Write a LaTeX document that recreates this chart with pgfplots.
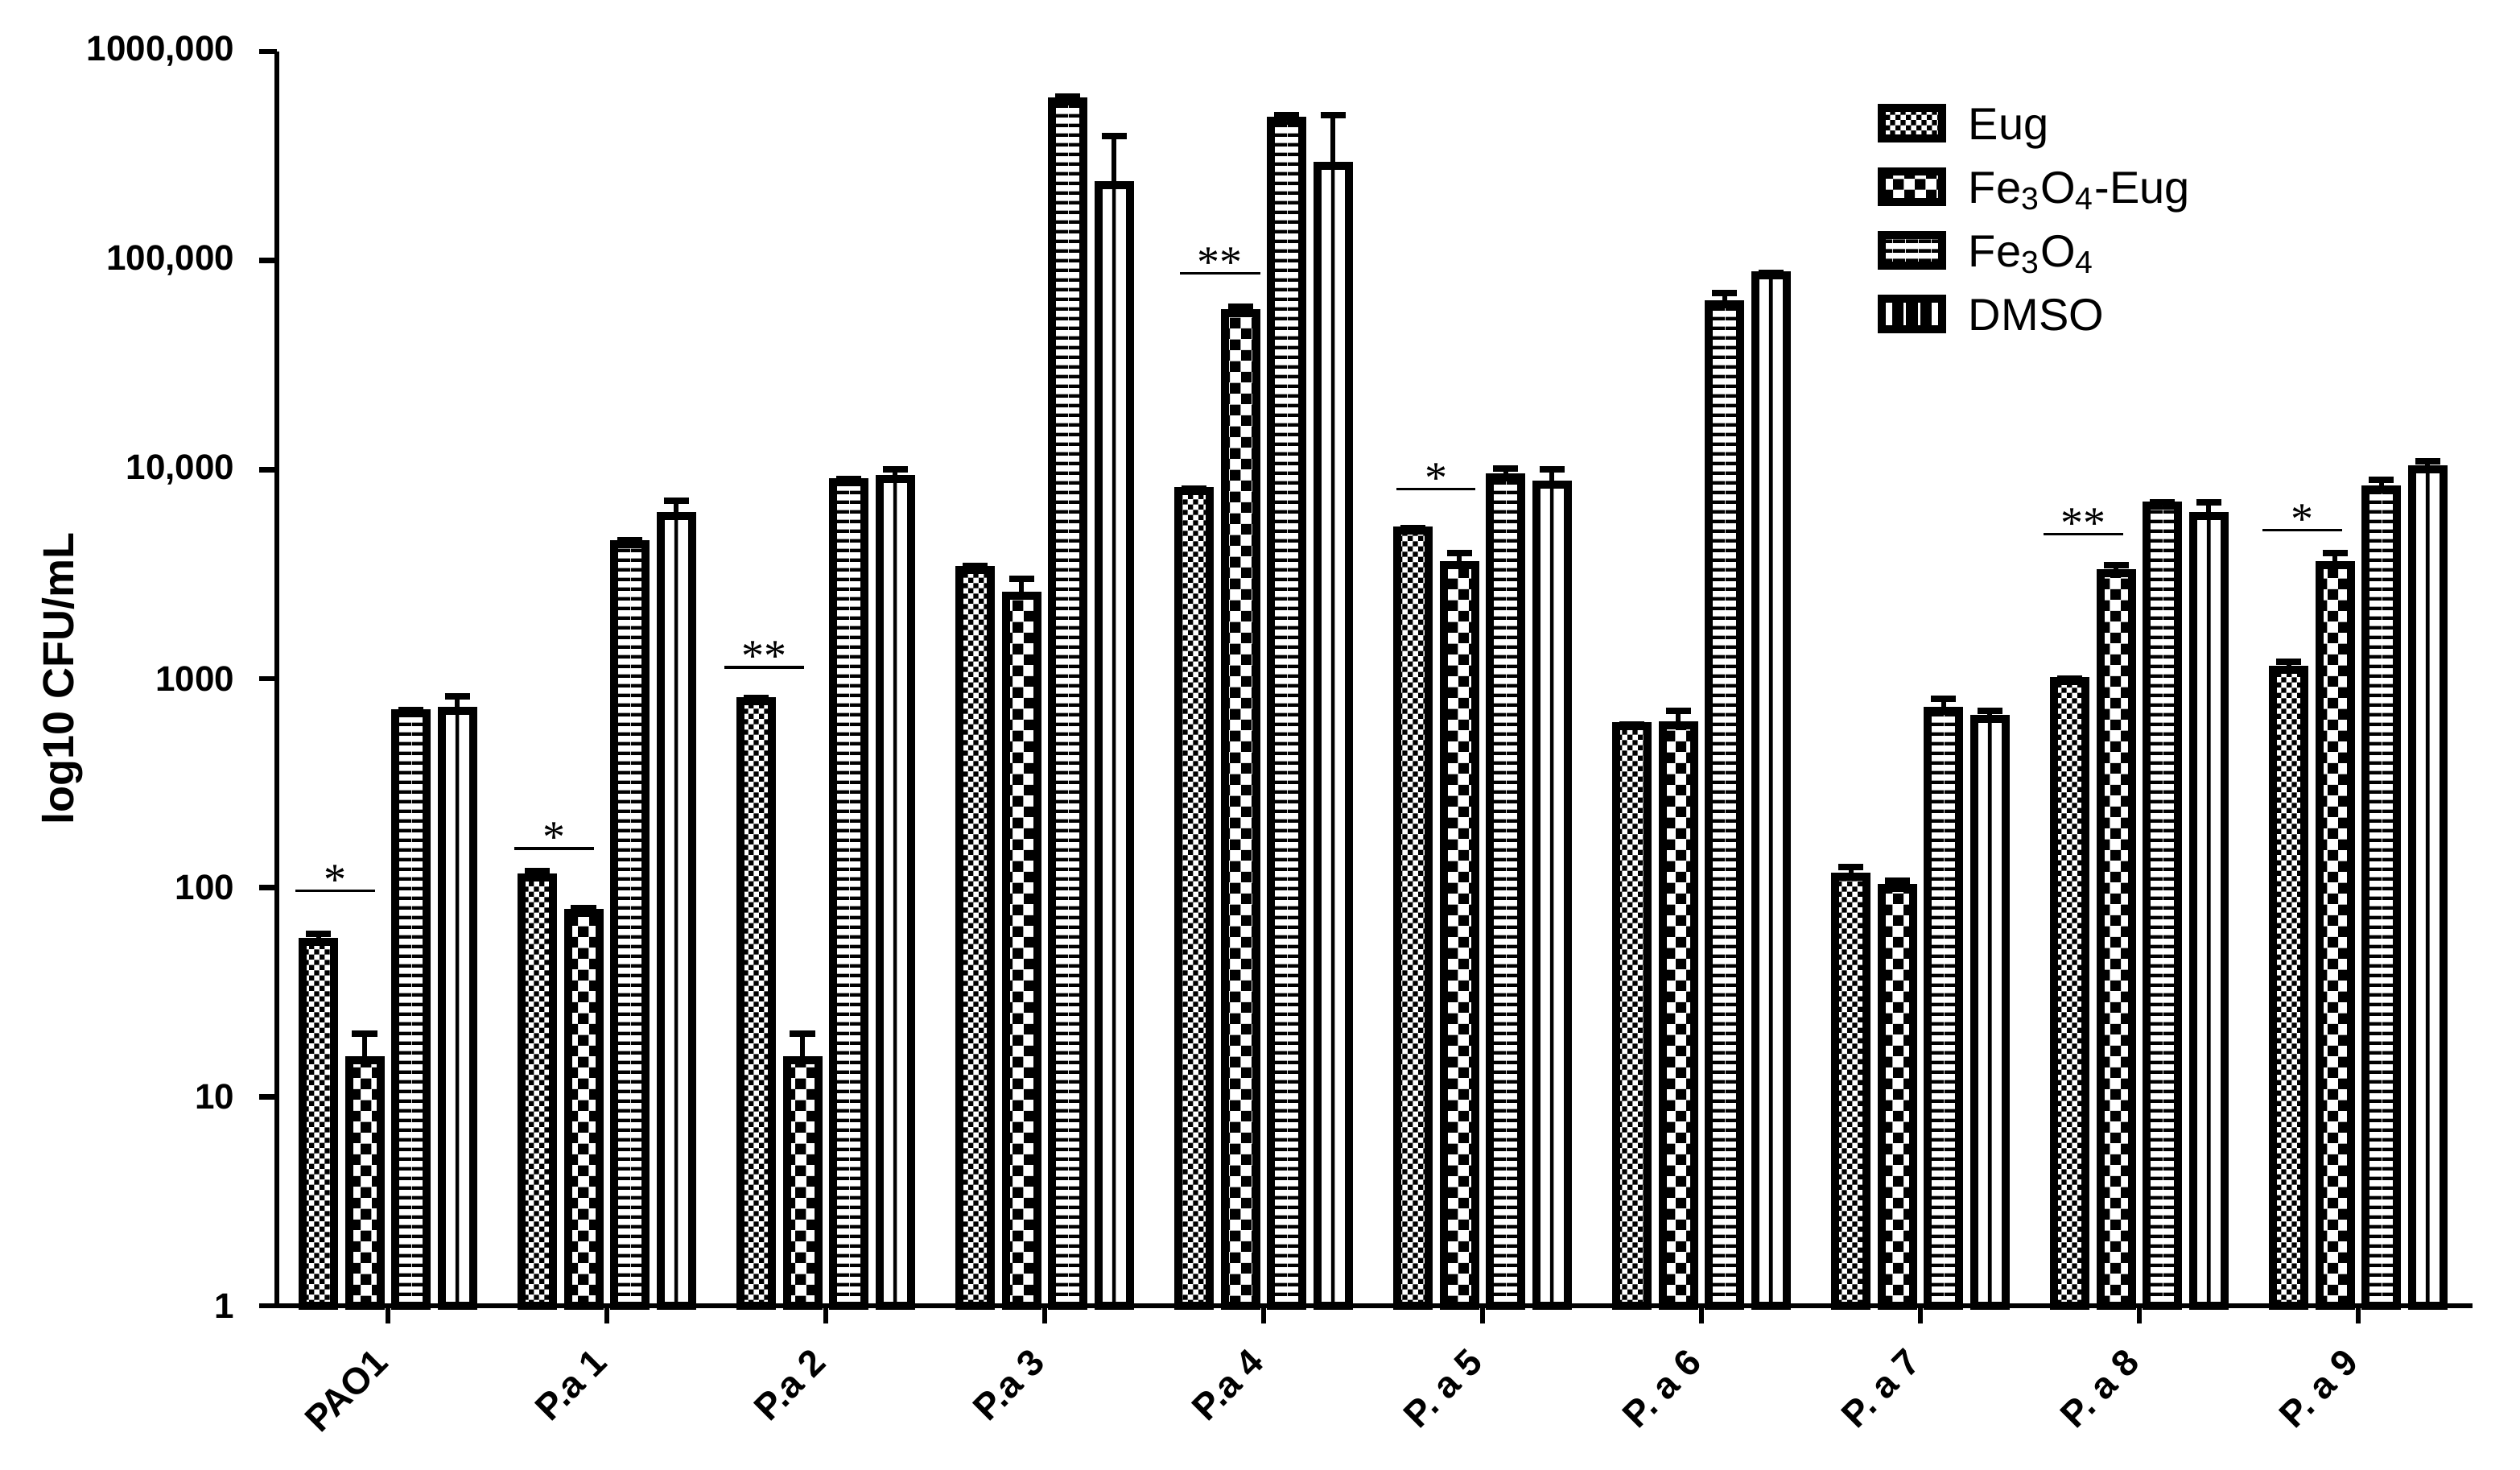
\documentclass[border=0pt]{standalone}
\usepackage{fontspec}
\setmainfont{Liberation Sans}
\newfontfamily\starfont{Liberation Serif}
\usepackage{pgfplots}
\usepackage{pgfplotstable}
\pgfplotsset{compat=1.18}
\usetikzlibrary{patterns}

% fill patterns of the four treatments
\pgfdeclarepatternformonly{finecheck}{\pgfpointorigin}{\pgfpoint{3.2pt}{3.2pt}}{\pgfpoint{3.2pt}{3.2pt}}{%
  \pgfpathrectangle{\pgfpointorigin}{\pgfpoint{1.6pt}{1.6pt}}%
  \pgfpathrectangle{\pgfpoint{1.6pt}{1.6pt}}{\pgfpoint{1.6pt}{1.6pt}}%
  \pgfusepath{fill}}
\pgfdeclarepatternformonly{coarsecheck}{\pgfpointorigin}{\pgfpoint{6.8pt}{6.8pt}}{\pgfpoint{6.8pt}{6.8pt}}{%
  \pgfpathrectangle{\pgfpointorigin}{\pgfpoint{3.4pt}{3.4pt}}%
  \pgfpathrectangle{\pgfpoint{3.4pt}{3.4pt}}{\pgfpoint{3.4pt}{3.4pt}}%
  \pgfusepath{fill}}
\pgfdeclarepatternformonly{hlines}{\pgfpointorigin}{\pgfpoint{4pt}{3pt}}{\pgfpoint{4pt}{3pt}}{%
  \pgfpathrectangle{\pgfpointorigin}{\pgfpoint{4pt}{1.2pt}}%
  \pgfusepath{fill}}

% columns: strain index, mean, SD
\pgfplotstableread{
x y err
0 55 5
1 112 8
2 780 30
3 3300 150
4 7900 200
5 5100 150
6 590 15
7 113 12
8 970 30
9 1100 100
}\eug
\pgfplotstableread{
x y err
0 15 5
1 76 4
2 15 5
3 2500 500
4 56000 4000
5 3500 500
6 600 100
7 100 8
8 3200 300
9 3500 500
}\feeug
\pgfplotstableread{
x y err
0 680 30
1 4400 200
2 8700 300
3 575000 35000
4 465000 30000
5 9200 900
6 62000 8000
7 700 100
8 6700 300
9 8000 900
}\fe
\pgfplotstableread{
x y err
0 700 120
1 6000 1100
2 9000 1000
3 230000 165000
4 285000 210000
5 8500 1500
6 85000 2000
7 640 60
8 6000 1000
9 10000 1000
}\dmso

\pgfplotsset{
  sdbar/.style={ybar, bar width=0.143, bar shift=0, draw=black, line width=2.5pt,
    error bars/y dir=plus, error bars/y explicit,
    error bars/error mark=|,
    error bars/error mark options={line width=2pt, mark size=3.9pt},
    error bars/error bar style={line width=1.5pt}},
  legbox/.style={legend image code/.code={%
    \draw[##1, line width=2.5pt] (0pt,-3.25pt) rectangle (18.75pt,6.25pt);}},
}

\begin{document}
\begin{tikzpicture}
\path[use as bounding box] (-86pt,-51pt) rectangle (696.75pt,405.5pt);
\begin{axis}[
  at={(0,0)}, anchor=south west,
  scale only axis, width=682pt, height=389.5pt,
  ymode=log, ymin=1, ymax=1000000,
  xmin=-0.507, xmax=9.522,
  axis x line*=bottom, axis y line*=left,
  axis line style={line width=1.6pt},
  tick style={line width=1.6pt, black},
  tick align=outside, major tick length=5.5pt,
  yminorticks=false,
  xtick={0,...,9},
  xticklabels={PAO1, P.a 1, P.a 2, P.a 3, P.a 4, P. a 5, P. a 6, P. a 7, P. a 8, P. a 9},
  ytick={1,10,100,1000,10000,100000,1000000},
  yticklabels={1,10,100,1000,{10,000},{100,000},{1000,000}},
  xticklabel style={font=\bfseries\fontsize{11.5}{13}\selectfont, yshift=-7pt, xshift=-5pt, rotate=45, anchor=north east, inner sep=0pt},
  yticklabel style={font=\bfseries\fontsize{11}{13}\selectfont, anchor=east, inner sep=0pt, xshift=-7.5pt},
  ylabel={log10 CFU/mL},
  ylabel style={font=\bfseries\fontsize{13.5}{15}\selectfont, at={(axis description cs:-0.0924,0.5)}, anchor=base},
  legend style={draw=none, fill=none, at={(axis description cs:0.7291,0.9582)}, anchor=north west,
    inner sep=0pt, outer sep=0pt, row sep=5.75pt,
    font=\fontsize{14}{16}\selectfont,
    nodes={inner sep=0pt, text height=10pt, text depth=3pt},
    /tikz/every odd column/.append style={column sep=7pt}},
  legend cell align=left,
  clip=false,
]
\addplot[sdbar, fill=white, postaction={pattern=finecheck}, legbox]
  table[x expr=\thisrow{x}-0.317, y=y, y error=err] {\eug};
\addlegendentry{Eug}
\addplot[sdbar, fill=white, postaction={pattern=coarsecheck}, legbox]
  table[x expr=\thisrow{x}-0.106, y=y, y error=err] {\feeug};
\addlegendentry{Fe\textsubscript{3}O\textsubscript{4}-Eug}
\addplot[sdbar, fill=white, postaction={pattern=hlines}, legbox]
  table[x expr=\thisrow{x}+0.106, y=y, y error=err] {\fe};
\addlegendentry{Fe\textsubscript{3}O\textsubscript{4}}
\addplot[sdbar, fill=white,
  legend image code/.code={%
    \draw[line width=2.5pt, fill=white] (0pt,-3.25pt) rectangle (18.75pt,6.25pt);
    \fill[black] (4.45pt,-3.25pt) rectangle (5.6pt,6.25pt);
    \fill[black] (8.8pt,-3.25pt) rectangle (9.95pt,6.25pt);
    \fill[black] (13.15pt,-3.25pt) rectangle (14.3pt,6.25pt);}]
  table[x expr=\thisrow{x}+0.317, y=y, y error=err] {\dmso};
\addlegendentry{DMSO}
% thin divider down the middle of each DMSO bar
\addplot[ybar, bar width=1.15pt, bar shift=0, fill=black, draw=none, forget plot]
  table[x expr=\thisrow{x}+0.317, y=y] {\dmso};

% significance brackets
\addplot[black, line width=0.8pt, forget plot] coordinates {(-0.423,96.5) (-0.059,96.5)};
\addplot[black, line width=0.8pt, forget plot] coordinates {(0.577,154) (0.941,154)};
\addplot[black, line width=0.8pt, forget plot] coordinates {(1.537,1132) (1.901,1132)};
\addplot[black, line width=0.8pt, forget plot] coordinates {(3.618,86800) (3.985,86800)};
\addplot[black, line width=0.8pt, forget plot] coordinates {(4.607,8080) (4.967,8080)};
\addplot[black, line width=0.8pt, forget plot] coordinates {(7.563,4920) (7.926,4920)};
\addplot[black, line width=0.8pt, forget plot] coordinates {(8.563,5150) (8.926,5150)};
\begin{scope}[every node/.style={anchor=base, yshift=-1.25pt, inner sep=0pt, font=\starfont\fontsize{14}{14}\selectfont}]
\node at (axis cs:-0.241,96.5) {*};
\node at (axis cs:0.759,154) {*};
\node at (axis cs:1.719,1132) {**};
\node at (axis cs:3.80,86800) {**};
\node at (axis cs:4.787,8080) {*};
\node at (axis cs:7.745,4920) {**};
\node at (axis cs:8.745,5150) {*};
\end{scope}
\end{axis}
\end{tikzpicture}
\end{document}
